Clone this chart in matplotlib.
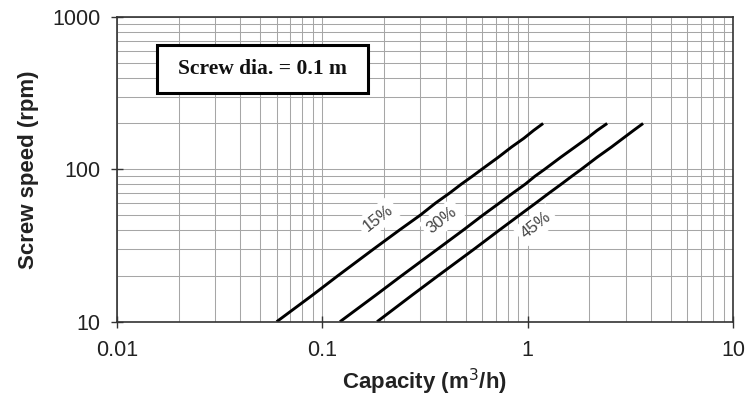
import matplotlib
matplotlib.use("Agg")
import matplotlib.pyplot as plt
from matplotlib.patches import Rectangle
from matplotlib.ticker import LogLocator, NullFormatter, FixedLocator, FixedFormatter

# Data
rpm = [10, 15, 20, 30, 40, 50, 60, 70, 80, 90, 100, 120, 140, 160, 180, 200]
cap_15 = [0.060, 0.090, 0.119, 0.178, 0.238, 0.300, 0.356, 0.418, 0.476, 0.538, 0.598, 0.720, 0.835, 0.960, 1.070, 1.190]
cap_30 = [0.122, 0.183, 0.243, 0.365, 0.487, 0.605, 0.728, 0.850, 0.975, 1.085, 1.210, 1.450, 1.700, 1.950, 2.180, 2.440]
cap_45 = [0.185, 0.275, 0.366, 0.550, 0.730, 0.912, 1.095, 1.275, 1.460, 1.640, 1.825, 2.180, 2.560, 2.920, 3.280, 3.650]
series_labels = ["15%", "30%", "45%"]
label_pos_x = [0.187, 0.383, 1.10]
label_pos_y = [48, 46.5, 43]

x_ticks = [0.01, 0.1, 1, 10]
x_ticklabels = ["0.01", "0.1", "1", "10"]
y_ticks = [10, 100, 1000]
y_ticklabels = ["10", "100", "1000"]

fig = plt.figure(figsize=(7.49, 4.03), dpi=100)
ax = fig.add_axes([0.156, 0.2017, 0.9786 - 0.156, 0.958 - 0.2017])
ax.set_xscale("log")
ax.set_yscale("log")
ax.set_xlim(0.01, 10)
ax.set_ylim(10, 1000)

ax.xaxis.set_major_locator(FixedLocator(x_ticks))
ax.xaxis.set_major_formatter(FixedFormatter(x_ticklabels))
ax.yaxis.set_major_locator(FixedLocator(y_ticks))
ax.yaxis.set_major_formatter(FixedFormatter(y_ticklabels))
ax.xaxis.set_minor_locator(LogLocator(base=10, subs=range(2, 10)))
ax.yaxis.set_minor_locator(LogLocator(base=10, subs=range(2, 10)))
ax.xaxis.set_minor_formatter(NullFormatter())
ax.yaxis.set_minor_formatter(NullFormatter())

ax.grid(True, which="both", color="#a6a6a6", linewidth=0.75)
ax.set_axisbelow(True)
ax.tick_params(which="minor", length=0)
ax.tick_params(which="major", direction="inout", length=9, width=1.0, color="#333333",
               labelsize=15.5, top=False, right=False)
ax.tick_params(axis="x", pad=9)
ax.tick_params(axis="y", pad=7)
for s in ax.spines.values():
    s.set_color("#333333")
    s.set_linewidth(1.2)

for cap, lab, lx, ly in zip([cap_15, cap_30, cap_45], series_labels, label_pos_x, label_pos_y):
    ax.plot(cap, rpm, color="black", linewidth=2.1, solid_capstyle="butt")
    ax.text(lx, ly, lab, rotation=38, ha="center", va="center", fontsize=12,
            color="#444444", fontfamily="Liberation Sans",
            bbox=dict(boxstyle="square,pad=0.25", facecolor="white", edgecolor="none"))

for lbl in ax.get_xticklabels() + ax.get_yticklabels():
    lbl.set_fontfamily("Liberation Sans")
    lbl.set_color("#222222")

ax.set_xlabel("Capacity (m$^3$/h)", fontsize=16, fontweight="bold", fontfamily="Liberation Sans",
              labelpad=4, color="#222222")
ax.set_ylabel("Screw speed (rpm)", fontsize=16, fontweight="bold", fontfamily="Liberation Sans",
              labelpad=10, color="#222222")

box = Rectangle((0.065, 0.7506), 0.4075 - 0.065, 0.908 - 0.7506, transform=ax.transAxes,
                facecolor="white", edgecolor="black", linewidth=2.2, zorder=5)
ax.add_patch(box)
ax.text((0.065 + 0.4075) / 2, 0.829, "Screw dia. = 0.1 m", transform=ax.transAxes,
        ha="center", va="center", fontsize=15.5, fontweight="bold",
        fontfamily="Liberation Serif", zorder=6, color="#111111")

fig.savefig("out.png", dpi=100)
